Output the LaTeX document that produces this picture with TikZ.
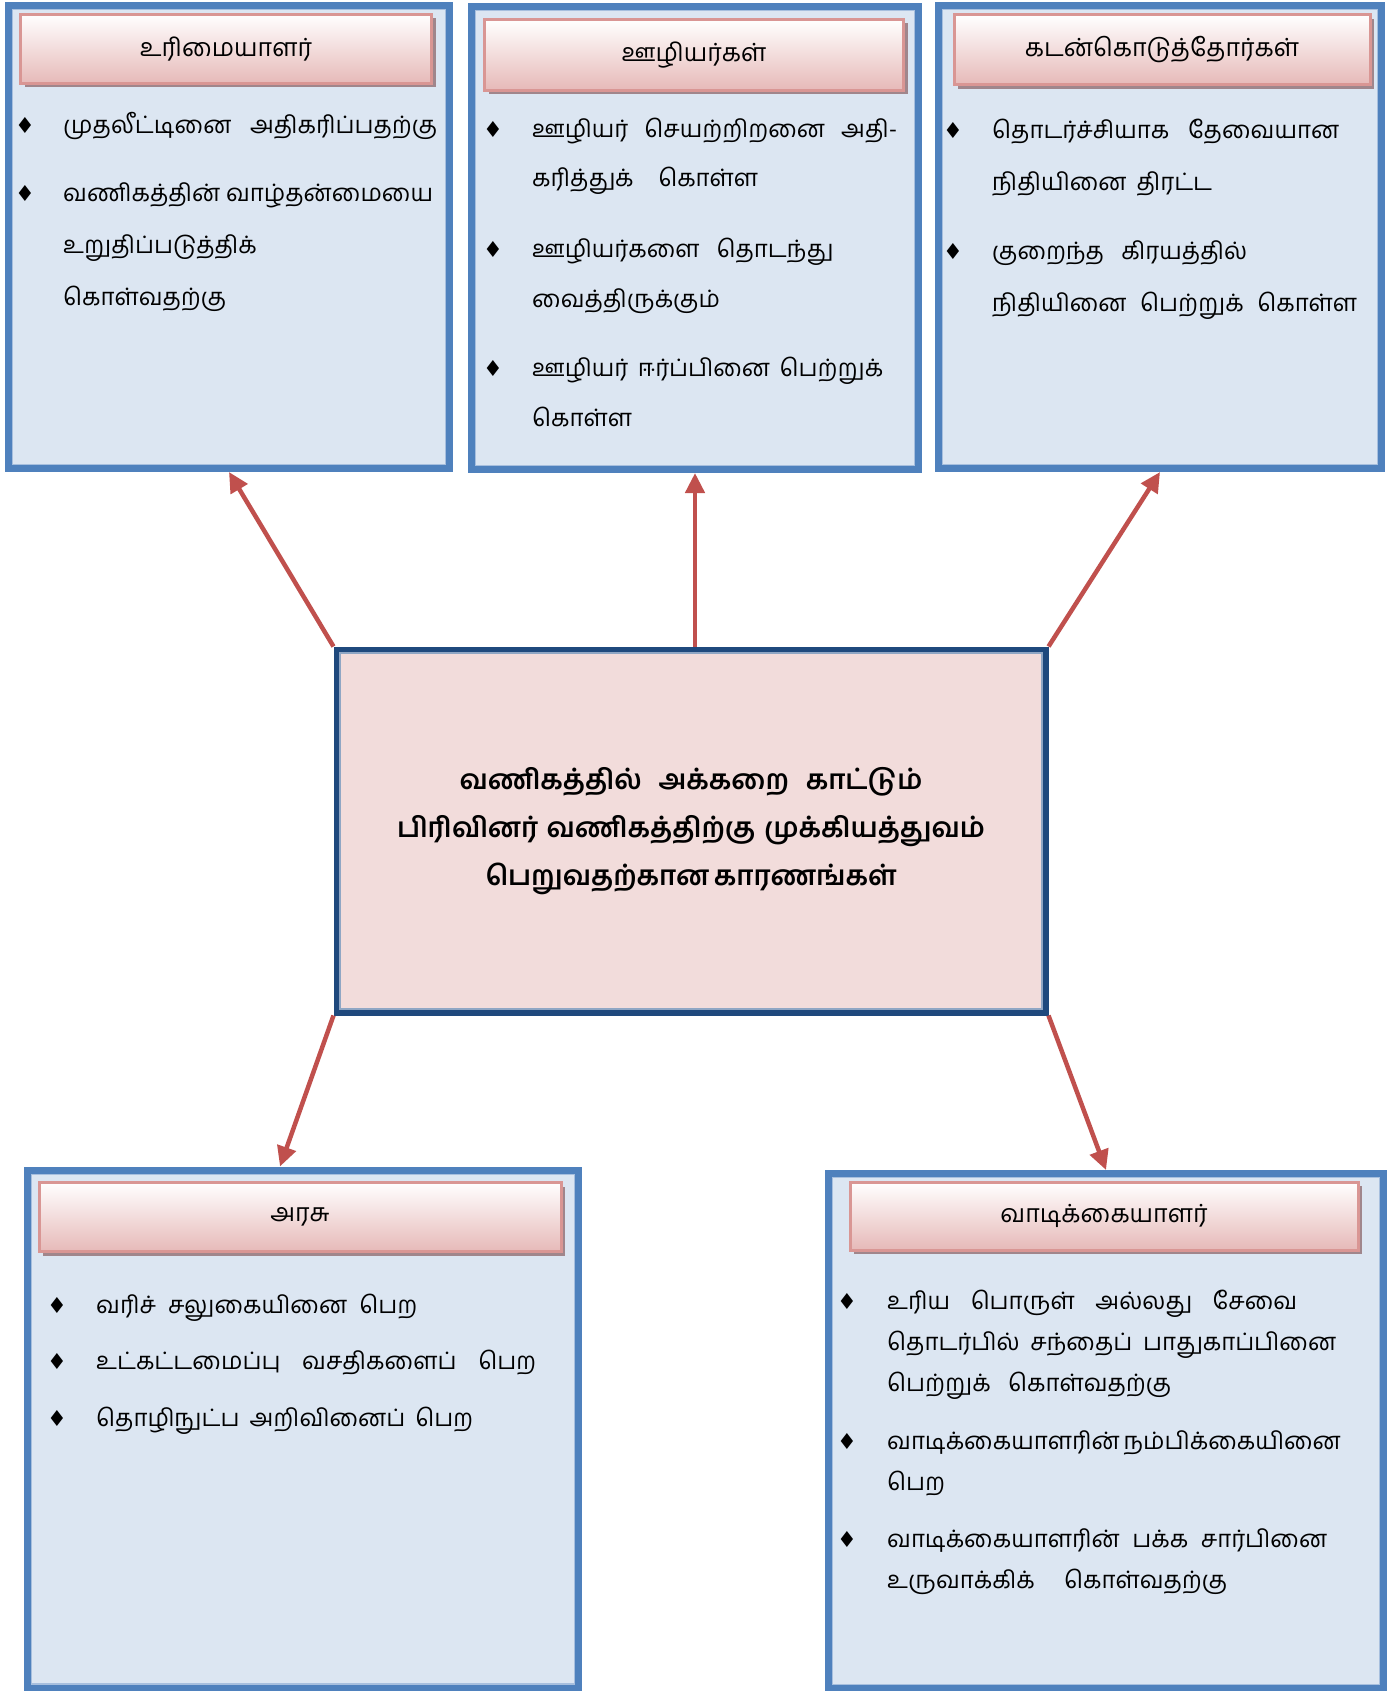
\documentclass[tikz,border=0pt]{standalone}
\usepackage{fontspec}
\newfontfamily\tamil[Script=Tamil]{Hind Madurai}
\newfontfamily\symb{DejaVu Sans}
\usetikzlibrary{arrows.meta,shadows}
\definecolor{boxblue}{HTML}{4F81BD}
\definecolor{boxfill}{HTML}{DCE6F2}
\definecolor{boxinner}{HTML}{A7BFDE}
\definecolor{hdrline}{HTML}{D99694}
\definecolor{hdrbot}{HTML}{E6B9B8}
\definecolor{hdrshadow}{HTML}{A0868C}
\definecolor{cenfill}{HTML}{F2DCDB}
\definecolor{cenline}{HTML}{1F497D}
\definecolor{ceninner}{HTML}{8FA6C4}
\definecolor{arrowred}{HTML}{C0504D}
\newcommand\spread[2]{\makebox[#1pt][s]{#2}}
% lines stacked from the first baseline down
\newcommand\lines[1]{\vtop{\halign{##\hfil\cr#1\crcr}}}
\begin{document}
\begin{tikzpicture}[x=1pt,y=-1pt,
  outerbox/.style={draw=boxblue,fill=boxfill,line width=7pt,inner sep=0},
  hdr/.style={draw=hdrline,line width=3pt,top color=white,bottom color=hdrbot,inner sep=0,
    drop shadow={shadow xshift=4pt,shadow yshift=-4pt,fill=hdrshadow,opacity=1},
    font=\tamil\fontsize{25}{30}\selectfont},
  item/.style={anchor=base west,inner sep=0,font=\tamil\fontsize{24}{#1}\selectfont},
  bul/.style={anchor=base,inner sep=0,font=\symb\fontsize{22}{22}\selectfont},
  link/.style={draw=arrowred,line width=4.5pt,-{Triangle[length=20pt,width=19pt]}}]
  \useasboundingbox (0,0) rectangle (1397,1691);

  % outer boxes
  \node[outerbox,minimum width=441pt,minimum height=463pt] (own) at (229,237) {};
  \node[outerbox,minimum width=447pt,minimum height=463pt] (emp) at (695,238) {};
  \node[outerbox,minimum width=443pt,minimum height=463pt] (lend) at (1160,237) {};
  \node[outerbox,minimum width=551pt,minimum height=518pt] (gov) at (303,1429) {};
  \node[outerbox,minimum width=555pt,minimum height=515pt] (cust) at (1106,1431) {};
  \foreach \n in {own,emp,lend,gov,cust}
    \draw[boxinner,line width=1.2pt] ([shift={(7.6,7.6)}]\n.north west) rectangle ([shift={(-7.6,-7.6)}]\n.south east);

  % headers
  \node[hdr,minimum width=411pt,minimum height=69pt] (own-h) at (226,49) {உரிமையாளர்};
  \node[hdr,minimum width=419pt,minimum height=71pt] (emp-h) at (694,55) {ஊழியர்கள்};
  \node[hdr,minimum width=416pt,minimum height=70pt] (lend-h) at (1162,50) {கடன்கொடுத்தோர்கள்};
  \node[hdr,minimum width=522pt,minimum height=69pt] (gov-h) at (300,1217) {அரசு};
  \node[hdr,minimum width=508pt,minimum height=68pt] (cust-h) at (1104,1216) {வாடிக்கையாளர்};

  % owners
  \foreach \y in {134,201} \node[bul] (own-\y) at (25,\y) {♦};
  \node[item=52] (own-a) at (63,134) {\spread{374}{முதலீட்டினை அதிகரிப்பதற்கு}};
  \node[item=52] (own-b) at (63,201) {\lines{\spread{370}{வணிகத்தின் வாழ்தன்மையை}\cr உறுதிப்படுத்திக்\cr கொள்வதற்கு}};

  % employees
  \foreach \y in {137,257,376} \node[bul] (emp-\y) at (493,\y) {♦};
  \node[item=50] (emp-a) at (532,137) {\lines{\spread{365}{ஊழியர் செயற்றிறனை அதி-}\cr\spread{226}{கரித்துக் கொள்ள}}};
  \node[item=50] (emp-b) at (532,257) {\lines{\spread{301}{ஊழியர்களை தொடந்து}\cr வைத்திருக்கும்}};
  \node[item=50] (emp-c) at (532,376) {\lines{\spread{351}{ஊழியர் ஈர்ப்பினை பெற்றுக்}\cr கொள்ள}};

  % lenders
  \foreach \y in {139,259} \node[bul] (lend-\y) at (953,\y) {♦};
  \node[item=52] (lend-a) at (992,139) {\lines{\spread{347}{தொடர்ச்சியாக தேவையான}\cr\spread{220}{நிதியினை திரட்ட}}};
  \node[item=52] (lend-b) at (992,259) {\lines{\spread{255}{குறைந்த கிரயத்தில்}\cr\spread{365}{நிதியினை பெற்றுக் கொள்ள}}};

  % government
  \foreach \y in {1313,1369,1426} \node[bul] (gov-\y) at (57,\y) {♦};
  \node[item=41] (gov-a) at (96,1313) {\spread{321}{வரிச் சலுகையினை பெற}};
  \node[item=41] (gov-b) at (96,1369) {\spread{440}{உட்கட்டமைப்பு வசதிகளைப் பெற}};
  \node[item=41] (gov-c) at (96,1426) {\spread{377}{தொழிநுட்ப அறிவினைப் பெற}};

  % customers
  \foreach \y in {1309,1449,1547} \node[bul] (cust-\y) at (847,\y) {♦};
  \node[item=41] (cust-a) at (887,1309) {\lines{\spread{410}{உரிய பொருள் அல்லது சேவை}\cr\spread{449}{தொடர்பில் சந்தைப் பாதுகாப்பினை}\cr\spread{284}{பெற்றுக் கொள்வதற்கு}}};
  \node[item=41] (cust-b) at (887,1449) {\lines{\spread{451}{வாடிக்கையாளரின் நம்பிக்கையினை}\cr பெற}};
  \node[item=41] (cust-c) at (887,1547) {\lines{\spread{440}{வாடிக்கையாளரின் பக்க சார்பினை}\cr\spread{340}{உருவாக்கிக் கொள்வதற்கு}}};

  % centre
  \node[draw=cenline,fill=cenfill,line width=6pt,minimum width=709pt,minimum height=363pt,
    align=center,font=\tamil\bfseries\fontsize{27.5}{48}\selectfont] (cen) at (691,831)
    {\spread{463}{வணிகத்தில் அக்கறை காட்டும்}\\\spread{588}{பிரிவினர் வணிகத்திற்கு முக்கியத்துவம்}\\\spread{411}{பெறுவதற்கான காரணங்கள்}};
  \draw[ceninner,line width=1.2pt] ([shift={(6.5,6.5)}]cen.north west) rectangle ([shift={(-6.5,-6.5)}]cen.south east);

  \draw[link] (cen.north west) -- (own.south);
  \draw[link] (emp.south |- cen.north) -- (emp.south);
  \draw[link] (cen.north east) -- (lend.south);
  \draw[link] (cen.south west) -- ([xshift=-23pt]gov.north);
  \draw[link] (cen.south east) -- (cust.north);
\end{tikzpicture}
\end{document}
